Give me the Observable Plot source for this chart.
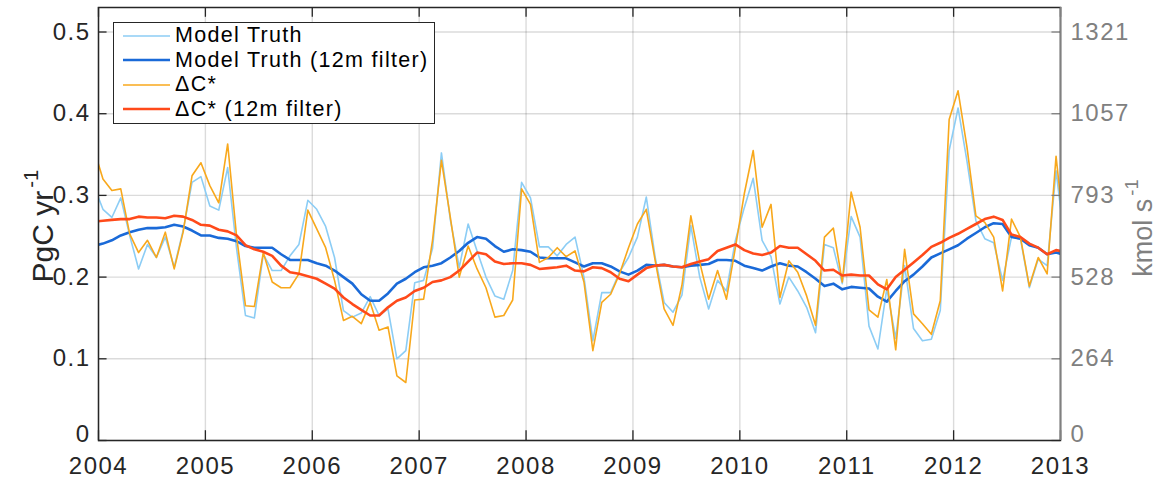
<!DOCTYPE html>
<html>
<head>
<meta charset="utf-8">
<script src="https://cdn.jsdelivr.net/npm/d3@7"></script>
<script src="https://cdn.jsdelivr.net/npm/@observablehq/plot@0.6"></script>
<style>
  body { margin: 0; background: #fff; }
  #wrap { position: relative; width: 1176px; height: 484px; font-family: "Liberation Sans", Arial, Helvetica, sans-serif; }
  #wrap svg text { letter-spacing: 1.5px; }
  .legend { position: absolute; left: 113px; top: 22px; width: 320px; height: 100px; border: 1.5px solid #262626; background: #fff; }
  .row { position: absolute; left: 0; height: 24px; display: flex; align-items: center; font-size: 21.5px; letter-spacing: 1.3px; color: #000; white-space: nowrap; }
  .row svg { margin-left: 9px; margin-right: 5px; }
  .ylab { position: absolute; white-space: nowrap; transform: translate(-50%, -50%) rotate(-90deg); }
  .ylab sup { font-size: 0.68em; vertical-align: 0.75em; margin-left: 3px; }
</style>
</head>
<body>
<div id="wrap"></div>
<script>
// Monthly values, mid-month, from Dec 2003 to Jan 2013 (first and last are clipped at the frame)
const startYear = 2003, startMonth = 12;

const modelTruth = [
  0.311,0.283,0.273,0.297,0.251,0.210,0.240,0.224,0.249,0.212,
  0.257,0.316,0.323,0.287,0.282,0.334,0.235,0.153,0.150,0.228,
  0.208,0.208,0.226,0.240,0.294,0.283,0.262,0.224,0.159,0.151,
  0.156,0.176,0.153,0.161,0.100,0.110,0.193,0.196,0.235,0.352,
  0.270,0.212,0.265,0.232,0.200,0.177,0.173,0.208,0.316,0.297,
  0.237,0.237,0.226,0.240,0.249,0.200,0.122,0.181,0.181,0.206,
  0.224,0.249,0.298,0.224,0.169,0.157,0.178,0.263,0.200,0.161,
  0.196,0.183,0.245,0.285,0.321,0.245,0.225,0.167,0.200,0.183,
  0.163,0.132,0.240,0.236,0.192,0.274,0.249,0.140,0.112,0.186,
  0.125,0.214,0.137,0.122,0.124,0.159,0.355,0.407,0.342,0.269,
  0.247,0.242,0.196,0.249,0.247,0.187,0.222,0.214,0.330,0.240
];

const modelTruthFiltered = [
  0.238,0.241,0.245,0.251,0.255,0.258,0.260,0.260,0.261,0.264,
  0.262,0.257,0.251,0.251,0.248,0.247,0.244,0.238,0.236,0.236,
  0.236,0.228,0.221,0.221,0.221,0.217,0.214,0.208,0.200,0.192,
  0.179,0.171,0.171,0.180,0.192,0.198,0.206,0.212,0.214,0.217,
  0.224,0.232,0.242,0.249,0.247,0.238,0.231,0.234,0.233,0.231,
  0.224,0.223,0.223,0.223,0.218,0.213,0.217,0.217,0.213,0.207,
  0.203,0.208,0.215,0.214,0.215,0.213,0.212,0.214,0.215,0.216,
  0.221,0.221,0.220,0.214,0.211,0.208,0.213,0.217,0.214,0.213,
  0.206,0.198,0.189,0.192,0.185,0.188,0.187,0.186,0.176,0.170,
  0.183,0.195,0.203,0.213,0.224,0.229,0.234,0.239,0.247,0.254,
  0.261,0.266,0.265,0.249,0.247,0.239,0.236,0.228,0.230,0.227
];

const deltaC = [
  0.356,0.320,0.306,0.308,0.253,0.230,0.245,0.224,0.255,0.210,
  0.255,0.324,0.340,0.312,0.291,0.363,0.250,0.165,0.164,0.230,
  0.194,0.187,0.187,0.204,0.282,0.259,0.236,0.196,0.147,0.152,
  0.143,0.169,0.135,0.139,0.079,0.071,0.172,0.173,0.245,0.343,
  0.273,0.200,0.238,0.210,0.187,0.151,0.153,0.172,0.308,0.289,
  0.218,0.224,0.236,0.225,0.232,0.194,0.110,0.169,0.179,0.204,
  0.236,0.265,0.283,0.220,0.161,0.141,0.190,0.275,0.218,0.173,
  0.208,0.173,0.236,0.302,0.355,0.261,0.289,0.175,0.220,0.206,
  0.177,0.141,0.249,0.260,0.194,0.304,0.261,0.160,0.151,0.197,
  0.111,0.234,0.155,0.143,0.130,0.171,0.393,0.428,0.359,0.275,
  0.267,0.249,0.183,0.271,0.249,0.189,0.224,0.204,0.348,0.245
];

const deltaCFiltered = [
  0.268,0.269,0.270,0.271,0.271,0.274,0.273,0.273,0.272,0.275,
  0.274,0.270,0.264,0.263,0.258,0.256,0.251,0.239,0.234,0.231,
  0.226,0.214,0.206,0.204,0.201,0.198,0.192,0.186,0.175,0.167,
  0.160,0.153,0.153,0.163,0.171,0.175,0.183,0.187,0.194,0.196,
  0.200,0.208,0.219,0.230,0.228,0.219,0.216,0.217,0.217,0.215,
  0.210,0.211,0.212,0.214,0.208,0.207,0.212,0.211,0.206,0.198,
  0.195,0.203,0.211,0.214,0.215,0.213,0.212,0.216,0.219,0.222,
  0.232,0.236,0.240,0.233,0.229,0.227,0.230,0.238,0.236,0.236,
  0.228,0.220,0.208,0.209,0.202,0.203,0.202,0.202,0.191,0.185,
  0.200,0.209,0.218,0.227,0.237,0.242,0.248,0.253,0.259,0.265,
  0.271,0.274,0.270,0.252,0.249,0.241,0.236,0.228,0.233,0.231
];

const seriesNames = ["Model Truth", "Model Truth (12m filter)", "\u0394C*", "\u0394C* (12m filter)"];
const seriesColors = ["#8ccdf5", "#1a6ad8", "#f8a81c", "#ff4a1a"];
const seriesWidths = [1.6, 2.6, 1.6, 2.6];

const xTicks = [2004, 2005, 2006, 2007, 2008, 2009, 2010, 2011, 2012, 2013];
const yTicks = [0, 0.1, 0.2, 0.3, 0.4, 0.5];
const yTickLabels = ["0", "0.1", "0.2", "0.3", "0.4", "0.5"];
const rightTickLabels = ["0", "264", "528", "793", "1057", "1321"];
const xDomain = [2004, 2013];
const yDomain = [0, 0.53];

const monthX = i => startYear + (startMonth - 0.5) / 12 + i / 12;
const allSeries = [modelTruth, modelTruthFiltered, deltaC, deltaCFiltered];
const tables = allSeries.map((vals, k) => vals.map((v, i) => ({x: monthX(i), y: v, s: seriesNames[k]})));

const tickLenX = 0.08;   // inward tick length in year units
const tickLenY = 0.012;  // inward tick length in value units
const upperTicks = yTicks.slice(1);

const chart = Plot.plot({
  width: 1176,
  height: 484,
  marginLeft: 98,
  marginRight: 116,
  marginTop: 7,
  marginBottom: 44,
  x: {domain: xDomain},
  y: {domain: yDomain},
  style: {fontFamily: "'Liberation Sans', Arial, Helvetica, sans-serif", fontSize: "24px", color: "#262626", background: "#fff"},
  marks: [
    Plot.gridX(xTicks, {stroke: "#000", strokeOpacity: 0.14, strokeWidth: 1.4}),
    Plot.gridY(yTicks, {stroke: "#000", strokeOpacity: 0.14, strokeWidth: 1.4}),
    ...tables.map((t, k) => Plot.line(t, {x: "x", y: "y", stroke: seriesColors[k], strokeWidth: seriesWidths[k], clip: true, strokeLinejoin: "round"})),
    // inward tick marks
    Plot.ruleY(yTicks, {x1: xDomain[0], x2: xDomain[0] + tickLenX, stroke: "#262626", strokeWidth: 1.3}),
    Plot.ruleY(yTicks, {x1: xDomain[1] - tickLenX, x2: xDomain[1], stroke: "#808080", strokeWidth: 1.3}),
    Plot.ruleX(xTicks, {y1: yDomain[0], y2: yDomain[0] + tickLenY, stroke: "#262626", strokeWidth: 1.3}),
    Plot.ruleX(xTicks, {y1: yDomain[1] - tickLenY, y2: yDomain[1], stroke: "#262626", strokeWidth: 1.3}),
    Plot.frame({stroke: "#262626", strokeWidth: 1.5}),
    Plot.ruleX([xDomain[1]], {stroke: "#808080", strokeWidth: 1.5}),
    Plot.axisX(xTicks, {tickSize: 0, tickPadding: 16, tickFormat: d => String(d), label: null, fontSize: 24}),
    Plot.axisY(upperTicks, {anchor: "left", tickSize: 0, tickPadding: 8, tickFormat: d => yTickLabels[yTicks.indexOf(d)], label: null, fontSize: 24}),
    Plot.axisY([yTicks[0]], {anchor: "left", tickSize: 0, tickPadding: 8, tickFormat: () => yTickLabels[0], label: null, fontSize: 24, dy: -6}),
    Plot.axisY(upperTicks, {anchor: "right", tickSize: 0, tickPadding: 10, tickFormat: d => rightTickLabels[yTicks.indexOf(d)], label: null, fontSize: 24, fill: "#808080"}),
    Plot.axisY([yTicks[0]], {anchor: "right", tickSize: 0, tickPadding: 10, tickFormat: () => rightTickLabels[0], label: null, fontSize: 24, fill: "#808080", dy: -6})
  ]
});

const wrap = document.getElementById("wrap");
wrap.appendChild(chart);

// legend
const legend = document.createElement("div");
legend.className = "legend";
seriesNames.forEach((name, k) => {
  const row = document.createElement("div");
  row.className = "row";
  row.style.top = (0.5 + k * 24.6) + "px";
  row.innerHTML = `<svg width="47" height="10"><line x1="0" y1="5" x2="47" y2="5" stroke="${seriesColors[k]}" stroke-width="${seriesWidths[k]}"/></svg><span>${name}</span>`;
  legend.appendChild(row);
});
wrap.appendChild(legend);

// axis titles
const yl = document.createElement("div");
yl.className = "ylab";
yl.style.left = "40px"; yl.style.top = "226px"; yl.style.color = "#262626"; yl.style.fontSize = "30px";
yl.innerHTML = "PgC yr<sup>-1</sup>";
wrap.appendChild(yl);

const yr = document.createElement("div");
yr.className = "ylab";
yr.style.left = "1140px"; yr.style.top = "228px"; yr.style.color = "#808080"; yr.style.fontSize = "27px";
yr.innerHTML = "kmol s<sup>-1</sup>";
wrap.appendChild(yr);
</script>
</body>
</html>
